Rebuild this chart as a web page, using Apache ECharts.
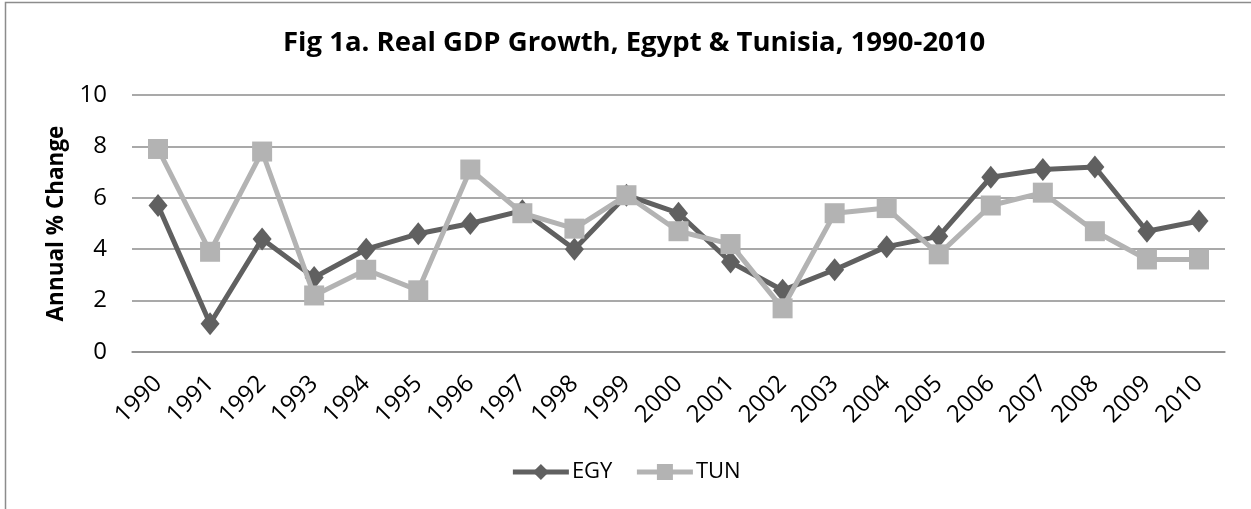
<!DOCTYPE html>
<html>
<head>
<meta charset="utf-8">
<script src="https://cdn.jsdelivr.net/npm/echarts@6/dist/echarts.min.js"></script>
<style>
  html, body { margin: 0; padding: 0; background: #fff; }
  #chart { width: 1251px; height: 509px; }
</style>
</head>
<body>
<div id="chart"></div>
<script>
// years on the x axis
var years = ['1990', '1991', '1992', '1993', '1994', '1995', '1996', '1997', '1998', '1999', '2000',
  '2001', '2002', '2003', '2004', '2005', '2006', '2007', '2008', '2009', '2010']

// real GDP growth, annual % change
var egy = [5.7, 1.1, 4.4, 2.9, 4.0, 4.6, 5.0, 5.5, 4.0, 6.1, 5.4, 3.5, 2.4, 3.2, 4.1, 4.5, 6.8, 7.1, 7.2, 4.7, 5.1]
var tun = [7.9, 3.9, 7.8, 2.2, 3.2, 2.4, 7.1, 5.4, 4.8, 6.1, 4.7, 4.2, 1.7, 5.4, 5.6, 3.8, 5.7, 6.2, 4.7, 3.6, 3.6]

var font = '"Open Sans", sans-serif'

var chart = echarts.init(document.getElementById('chart'))
chart.setOption({
  animation: false,
  textStyle: { fontFamily: font },
  title: {
    text: 'Fig 1a. Real GDP Growth, Egypt & Tunisia, 1990-2010',
    left: 278,
    top: 24,
    textStyle: { fontSize: 27.5, fontWeight: 'bold', color: '#000', fontFamily: font }
  },
  graphic: [{
    type: 'rect',
    shape: { x: 5.5, y: 2.5, width: 1400, height: 700 },
    style: { fill: 'none', stroke: '#8c8c8c', lineWidth: 1.5 },
    silent: true
  }],
  legend: {
    top: 456,
    left: 'center',
    itemWidth: 56,
    itemHeight: 20,
    itemGap: 22,
    lineStyle: { width: 5 },
    textStyle: { fontSize: 22, color: '#000', fontFamily: font, padding: [0, 0, 0, -2] },
    data: ['EGY', 'TUN']
  },
  grid: { left: 132, right: 26, top: 95, bottom: 157 },
  xAxis: {
    type: 'category',
    data: years,
    boundaryGap: true,
    axisLine: { show: true, lineStyle: { color: '#8c8c8c', width: 1.5 } },
    axisTick: { show: false },
    axisLabel: { rotate: 45, fontSize: 24, color: '#000', margin: 28, interval: 0 }
  },
  yAxis: {
    type: 'value',
    min: 0,
    max: 10,
    interval: 2,
    name: 'Annual % Change',
    nameLocation: 'middle',
    nameGap: 64,
    nameTextStyle: { fontSize: 22.5, fontWeight: 'bold', color: '#000' },
    axisLine: { show: false },
    axisTick: { show: false },
    axisLabel: { fontSize: 24, color: '#000', margin: 25 },
    splitLine: { lineStyle: { color: '#8c8c8c', width: 1.5 } }
  },
  series: [
    {
      name: 'EGY',
      type: 'line',
      data: egy,
      symbol: 'diamond',
      symbolSize: [19, 23],
      lineStyle: { color: '#606060', width: 5 },
      itemStyle: { color: '#606060' },
      z: 2
    },
    {
      name: 'TUN',
      type: 'line',
      data: tun,
      symbol: 'rect',
      symbolSize: 20,
      lineStyle: { color: '#b3b3b3', width: 5 },
      itemStyle: { color: '#b3b3b3' },
      z: 3
    }
  ]
})
</script>
</body>
</html>
